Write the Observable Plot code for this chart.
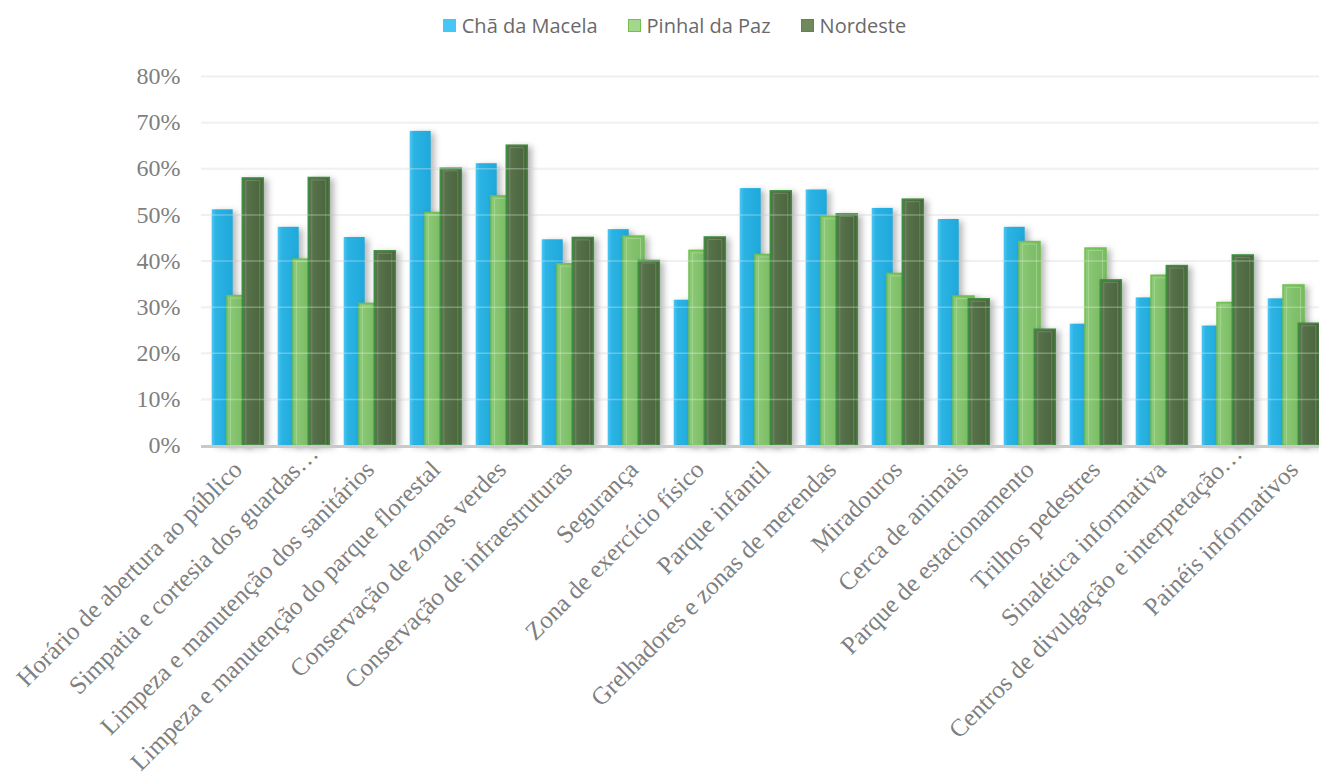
<!DOCTYPE html>
<html>
<head>
<meta charset="utf-8">
<script src="https://cdn.jsdelivr.net/npm/d3@7"></script>
<script src="https://cdn.jsdelivr.net/npm/@observablehq/plot@0.6"></script>
<style>
  html, body { margin: 0; padding: 0; background: #fff; overflow: hidden; }
  #legend {
    height: 50px; display: flex; justify-content: center; align-items: center;
    padding-left: 30px; box-sizing: border-box;
    font-family: "Open Sans", sans-serif; font-size: 20px; color: #6a6a6a;
  }
  #legend .item { display: flex; align-items: center; margin: 0 15px; }
  #legend .swatch { width: 13px; height: 13px; margin-right: 6px; box-sizing: border-box; }
  #chart svg { display: block; }
</style>
</head>
<body>
<div id="legend"></div>
<div id="chart"></div>
<script>
// Satisfaction by park feature, share of respondents (%)
const categories = [
  "Horário de abertura ao público",
  "Simpatia e cortesia dos guardas…",
  "Limpeza e manutenção dos sanitários",
  "Limpeza e manutenção do parque florestal",
  "Conservação de zonas verdes",
  "Conservação de infraestruturas",
  "Segurança",
  "Zona de exercício físico",
  "Parque infantil",
  "Grelhadores e zonas de merendas",
  "Miradouros",
  "Cerca de animais",
  "Parque de estacionamento",
  "Trilhos pedestres",
  "Sinalética informativa",
  "Centros de divulgação e interpretação…",
  "Painéis informativos"
];

const series = ["Chã da Macela", "Pinhal da Paz", "Nordeste"];

const chaDaMacela = [51.1, 47.3, 45.1, 68.1, 61.1, 44.6, 46.8, 31.5, 55.7, 55.4, 51.4, 49.0, 47.3, 26.3, 32.0, 25.9, 31.8];
const pinhalDaPaz = [32.4, 40.3, 30.7, 50.4, 54.0, 39.3, 45.3, 42.2, 41.3, 49.6, 37.2, 32.3, 44.1, 42.7, 36.8, 30.9, 34.7];
const nordeste    = [57.9, 58.0, 42.1, 60.0, 65.0, 45.0, 40.0, 45.1, 55.1, 50.1, 53.3, 31.7, 25.1, 35.8, 38.9, 41.2, 26.4];

const yTicks = [0, 10, 20, 30, 40, 50, 60, 70, 80];

// long table built from the arrays above
const seriesValues = [chaDaMacela, pinhalDaPaz, nordeste];
const rows = categories.flatMap((category, i) =>
  series.map((name, j) => ({category, series: name, value: seriesValues[j][i]}))
);
const only = (name) => rows.filter((d) => d.series === name);

// legend
const swatchStyles = [
  {background: "#45C6F4", border: "none"},
  {background: "#A2D88C", border: "1.5px solid #72C04F"},
  {background: "#6E8A5C", border: "1.5px solid #3C9A3E"}
];
const legend = document.getElementById("legend");
series.forEach((name, j) => {
  const item = document.createElement("div");
  item.className = "item";
  const sw = document.createElement("div");
  sw.className = "swatch";
  sw.style.background = swatchStyles[j].background;
  sw.style.border = swatchStyles[j].border;
  const label = document.createElement("span");
  label.textContent = name;
  item.append(sw, label);
  legend.append(item);
});

const offset = 15.3;
const gridTicks = yTicks.filter((t) => t > 0);
const truncated = categories.filter((c) => c.endsWith("…"));
const full = categories.filter((c) => !c.endsWith("…"));

const chart = Plot.plot({
  width: 1319,
  height: 730,
  marginTop: 26,
  marginBottom: 335,
  marginLeft: 201,
  marginRight: -11,
  style: {
    fontFamily: "'Liberation Serif', 'Times New Roman', serif",
    fontSize: "24px",
    color: "#7f7f7f",
    background: "transparent"
  },
  x: {domain: categories, paddingInner: 0.684, paddingOuter: 0.342, label: null},
  y: {domain: [0, 80], label: null},
  marks: [
    Plot.ruleY(gridTicks, {stroke: "#ececec", strokeWidth: 2}),
    Plot.barY(only(series[0]), {x: "category", y: "value", fill: "url(#fill-macela)", dx: -offset}),
    Plot.barY(only(series[1]), {x: "category", y: "value", fill: "url(#fill-pinhal)", stroke: "#72C04F", strokeWidth: 1.5, dx: 0}),
    Plot.barY(only(series[1]), {x: "category", y: "value", fill: "none", stroke: "#B5E0A2", strokeOpacity: 0.55, strokeWidth: 1, insetLeft: 3.5, insetRight: 3.5, insetTop: 2.5, dx: 0}),
    Plot.barY(only(series[2]), {x: "category", y: "value", fill: "url(#fill-nordeste)", stroke: "#3E8E3F", strokeWidth: 1.5, dx: offset}),
    Plot.barY(only(series[2]), {x: "category", y: "value", fill: "none", stroke: "#8FA982", strokeOpacity: 0.45, strokeWidth: 1, insetLeft: 3.5, insetRight: 3.5, insetTop: 2.5, dx: offset}),
    Plot.ruleY(gridTicks, {stroke: "#ffffff", strokeOpacity: 0.28, strokeWidth: 1.5}),
    Plot.ruleY([0], {stroke: "#c9c9c9", strokeWidth: 3, dy: 1}),
    Plot.axisY({ticks: yTicks, tickSize: 0, tickPadding: 21, tickFormat: (d) => d + "%", fontSize: 24}),
    Plot.axisX(full, {tickRotate: -45, tickSize: 0, tickPadding: 20, fontSize: 25}),
    // shortened labels sit a little further along the diagonal
    Plot.axisX(truncated, {tickRotate: -45, tickSize: 0, tickPadding: 20, fontSize: 25, dx: 10, dy: -16})
  ]
});

// gradients and soft shadows for the bars
const svg = d3.select(chart);
const defs = svg.insert("defs", ":first-child");
function gradient(id, stops) {
  const g = defs.append("linearGradient").attr("id", id).attr("x1", 0).attr("x2", 1).attr("y1", 0).attr("y2", 0);
  stops.forEach(([o, c]) => g.append("stop").attr("offset", o).attr("stop-color", c));
}
gradient("fill-macela", [[0, "#4CC6F2"], [0.2, "#2BB3E3"], [1, "#1FA8DB"]]);
gradient("fill-pinhal", [[0, "#8ECA78"], [0.5, "#82C16C"], [1, "#7BBB64"]]);
gradient("fill-nordeste", [[0, "#5B7750"], [0.5, "#526D45"], [1, "#4A633C"]]);

const barGroups = chart.querySelectorAll('g[aria-label="bar"]');
[0, 1, 3].forEach((k) => {
  if (barGroups[k]) barGroups[k].style.filter = "drop-shadow(4px 2px 3px rgba(0,0,0,0.28))";
});

document.getElementById("chart").append(chart);
</script>
</body>
</html>
